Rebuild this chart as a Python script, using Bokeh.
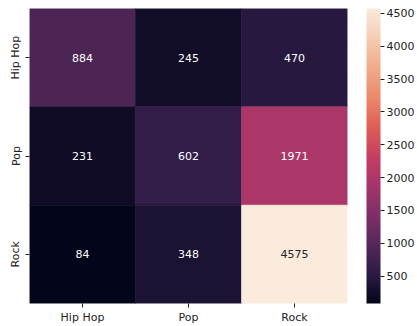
import numpy as np
from bokeh.plotting import figure
from bokeh.models import (ColumnDataSource, LinearColorMapper, ColorBar,
                          FixedTicker, FactorRange, Title)
from bokeh.embed import file_html
from bokeh.resources import INLINE

# ---- data ----
genres = ["Hip Hop", "Pop", "Rock"]
row_hiphop = [884, 245, 470]
row_pop = [231, 602, 1971]
row_rock = [84, 348, 4575]
cbar_ticks = [500, 1000, 1500, 2000, 2500, 3000, 3500, 4000, 4500]

rows = {"Hip Hop": row_hiphop, "Pop": row_pop, "Rock": row_rock}

# ---- rocket-like colormap (as it looks in the reference) ----
anchors = [(0.0, "#03051a"), (0.1, "#2d1b45"), (0.2, "#55285a"), (0.3, "#7f2e68"),
           (0.4, "#a5356b"), (0.5, "#c63e63"), (0.6, "#df5f55"), (0.7, "#ea8a6a"),
           (0.85, "#f3bc9c"), (1.0, "#faebdd")]
pos = np.array([a[0] for a in anchors])
rgb = np.array([[int(c[i:i+2], 16) for i in (1, 3, 5)] for _, c in anchors], float)
ts = np.linspace(0, 1, 256)
pal_rgb = np.stack([np.interp(ts, pos, rgb[:, k]) for k in range(3)], axis=1)
palette = ["#%02x%02x%02x" % tuple(int(round(v)) for v in c) for c in pal_rgb]

allvals = row_hiphop + row_pop + row_rock
lo, hi = min(allvals), max(allvals)

def lum(c):
    c = c / 255.0
    c = np.where(c <= 0.03928, c / 12.92, ((c + 0.055) / 1.055) ** 2.4)
    return 0.2126 * c[0] + 0.7152 * c[1] + 0.0722 * c[2]

xs, ys, vals, txt, tcol = [], [], [], [], []
for r in genres:
    for ci, c in enumerate(genres):
        v = rows[r][ci]
        xs.append(c); ys.append(r); vals.append(v); txt.append(str(v))
        idx = int(round((v - lo) / (hi - lo) * 255))
        tcol.append("#262626" if lum(pal_rgb[idx]) > 0.408 else "#ffffff")

src = ColumnDataSource(dict(x=xs, y=ys, v=vals, t=txt, tc=tcol))
mapper = LinearColorMapper(palette=palette, low=lo, high=hi)

p = figure(width=417, height=326, output_backend="svg", toolbar_location=None,
           x_range=FactorRange(*genres), y_range=FactorRange(*genres[::-1]),
           min_border_left=29, min_border_top=8, min_border_bottom=22,
           min_border_right=6)
p.rect(x="x", y="y", width=1, height=1, source=src,
       fill_color={"field": "v", "transform": mapper},
       line_color={"field": "v", "transform": mapper}, line_width=0.6)
p.text(x="x", y="y", text="t", source=src, text_color="tc",
       text_align="center", text_baseline="middle", text_font_size="11px",
       text_font={"value": "DejaVu Sans"})

p.outline_line_color = None
p.grid.grid_line_color = None
for ax in (p.xaxis[0], p.yaxis[0]):
    ax.axis_line_color = None
    ax.major_tick_in = 0
    ax.major_tick_out = 4
    ax.major_tick_line_color = "#222222"
    ax.major_label_text_font = "DejaVu Sans"
    ax.major_label_text_font_size = "11px"
    ax.major_label_text_color = "#222222"
    ax.major_label_standoff = 3
p.yaxis.major_label_orientation = "vertical"

# blank spacer between heatmap and colour bar
p.add_layout(Title(text=" ", text_font_size="16px", standoff=0, offset=0), "right")

cb = ColorBar(color_mapper=mapper, ticker=FixedTicker(ticks=cbar_ticks),
              width=14, padding=0, margin=0, border_line_color=None,
              major_tick_in=0, major_tick_out=4, major_tick_line_color="#222222",
              minor_tick_line_color=None, bar_line_color=None,
              label_standoff=2, major_label_text_font="DejaVu Sans",
              major_label_text_font_size="11px", major_label_text_color="#222222",
              background_fill_color=None)
p.add_layout(cb, "right")

open("out.html", "w").write(file_html(p, INLINE))
